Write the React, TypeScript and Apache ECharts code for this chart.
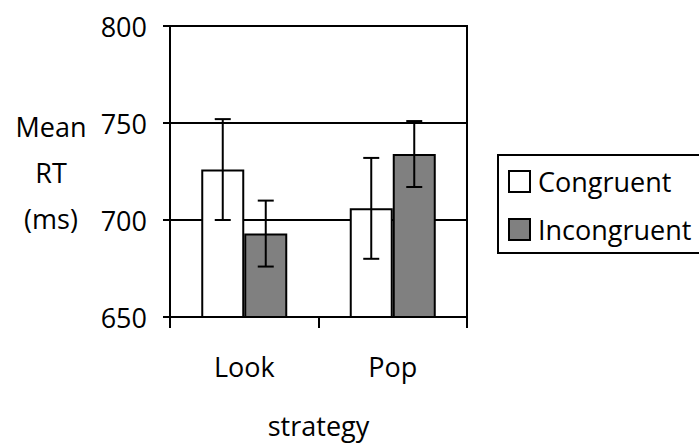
import React, { useEffect, useRef } from "react";
import * as echarts from "echarts";

const categories = ["Look", "Pop"];
const congruent = [726, 706];
const incongruent = [693, 734];
const congruentErr = [26, 26];
const incongruentErr = [17, 17];
const yTicks = { min: 650, max: 800, interval: 50 };

const FONT = "Open Sans";
const FS = 27;
const BAR_W = 43;

function errorSeries(name: string, values: number[], errs: number[], offset: number) {
  return {
    type: "custom",
    name,
    z: 10,
    silent: true,
    data: values.map((v, i) => [i, v - errs[i], v + errs[i]]),
    renderItem: (params: any, api: any) => {
      const cat = api.value(0);
      const lo = api.coord([cat, api.value(1)]);
      const hi = api.coord([cat, api.value(2)]);
      const x = lo[0] + offset;
      const style = { stroke: "#000", lineWidth: 2 };
      return {
        type: "group",
        children: [
          { type: "line", shape: { x1: x, y1: lo[1], x2: x, y2: hi[1] }, style },
          { type: "line", shape: { x1: x - 8, y1: lo[1], x2: x + 8, y2: lo[1] }, style },
          { type: "line", shape: { x1: x - 8, y1: hi[1], x2: x + 8, y2: hi[1] }, style },
        ],
      };
    },
  };
}

export default function App() {
  const ref = useRef<HTMLDivElement>(null);
  useEffect(() => {
    const chart = echarts.init(ref.current!, null, { renderer: "svg" });
    chart.setOption({
      animation: false,
      backgroundColor: "#fff",
      textStyle: { fontFamily: FONT, color: "#000" },
      grid: {
        left: 170,
        top: 26,
        right: 232,
        bottom: 125,
        show: true,
        borderColor: "#000",
        borderWidth: 2,
        backgroundColor: "transparent",
      },
      legend: {
        data: ["Congruent", "Incongruent"],
        orient: "vertical",
        left: 498,
        top: 155,
        padding: [13, 24, 10, 10],
        borderColor: "#000",
        borderWidth: 2,
        itemWidth: 21,
        itemHeight: 21,
        itemGap: 21,
        icon: "rect",
        textStyle: { fontFamily: FONT, fontSize: FS, color: "#000", lineHeight: 27, padding: [0, 0, 0, 3] },
      },
      xAxis: {
        type: "category",
        data: categories,
        axisLine: { show: true, lineStyle: { color: "#000", width: 2 } },
        axisTick: { show: true, length: 11, alignWithLabel: false, lineStyle: { color: "#000", width: 2 } },
        axisLabel: { fontFamily: FONT, fontSize: FS, color: "#000", margin: 36 },
        name: "strategy",
        nameLocation: "middle",
        nameGap: 95,
        nameTextStyle: { fontFamily: FONT, fontSize: FS, color: "#000" },
      },
      yAxis: {
        type: "value",
        min: yTicks.min,
        max: yTicks.max,
        interval: yTicks.interval,
        axisLine: { show: true, lineStyle: { color: "#000", width: 2 } },
        axisTick: { show: true, length: 7, inside: false, lineStyle: { color: "#000", width: 2 } },
        axisLabel: { fontFamily: FONT, fontSize: FS, color: "#000", margin: 23 },
        splitLine: { show: true, lineStyle: { color: "#000", width: 2 } },
      },
      graphic: [
        {
          type: "text",
          x: 51,
          y: 172,
          style: {
            text: "Mean\nRT\n(ms)",
            fontFamily: FONT,
            fontSize: FS,
            lineHeight: 46,
            fill: "#000",
            align: "center",
            verticalAlign: "middle",
          },
        },
      ],
      series: [
        {
          type: "bar",
          name: "Congruent",
          data: congruent,
          barWidth: BAR_W,
          barGap: "0%",
          itemStyle: { color: "#fff", borderColor: "#000", borderWidth: 2 },
        },
        {
          type: "bar",
          name: "Incongruent",
          data: incongruent,
          barWidth: BAR_W,
          barGap: "0%",
          itemStyle: { color: "#808080", borderColor: "#000", borderWidth: 2 },
        },
        errorSeries("Congruent error", congruent, congruentErr, -BAR_W / 2),
        errorSeries("Incongruent error", incongruent, incongruentErr, BAR_W / 2),
      ],
    });
    return () => chart.dispose();
  }, []);
  return (
    <div
      ref={ref}
      style={{ position: "fixed", left: 0, top: 0, width: 699, height: 444 }}
    />
  );
}
